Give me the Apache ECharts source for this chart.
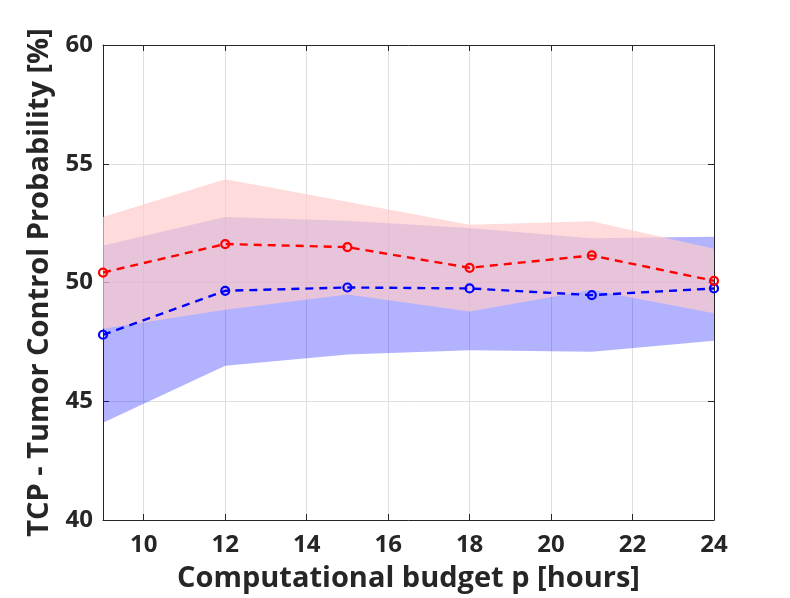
<!DOCTYPE html>
<html>
<head>
<meta charset="utf-8">
<script src="https://cdn.jsdelivr.net/npm/echarts@6/dist/echarts.min.js"></script>
<style>
  html, body { margin: 0; padding: 0; background: #fff; }
  #chart { width: 790px; height: 598px; }
</style>
</head>
<body>
<div id="chart"></div>
<script>
// 计算预算 p（小时）与 TCP 的关系：两条均值曲线 + 各自的置信带
const budget = [9, 12, 15, 18, 21, 24];
const xTicks = [10, 12, 14, 16, 18, 20, 22, 24];

const redMean  = [50.42, 51.62, 51.49, 50.62, 51.14, 50.07];
const redLow   = [48.05, 48.85, 49.5, 48.78, 49.68, 48.71];
const redHigh  = [52.76, 54.35, 53.4, 52.43, 52.58, 51.42];

const blueMean = [47.8, 49.65, 49.79, 49.75, 49.47, 49.75];
const blueLow  = [44.1, 46.5, 46.97, 47.15, 47.08, 47.55];
const blueHigh = [51.56, 52.76, 52.6, 52.29, 51.86, 51.93];

const TXT = '#262626';
const FONT = '"Open Sans", "DejaVu Sans", sans-serif';

const pairs = arr => budget.map((x, i) => [x, arr[i]]);

// 置信带：custom 系列，在第 0 个数据项处画整块多边形（上界正向 + 下界反向）
function band(name, lo, hi, fill) {
  const rows = budget.map((x, i) => [x, lo[i], hi[i]]);
  return {
    name, type: 'custom', data: rows, silent: true, animation: false,
    encode: { x: 0, y: [1, 2] },
    renderItem(params, api) {
      if (params.dataIndex !== 0) return null;
      const top = rows.map(r => api.coord([r[0], r[2]]));
      const bot = rows.map(r => api.coord([r[0], r[1]])).reverse();
      return {
        type: 'polygon',
        shape: { points: top.concat(bot) },
        style: { fill, stroke: null },
      };
    },
  };
}

function meanLine(name, arr, color) {
  return {
    name, type: 'line', data: pairs(arr), symbol: 'circle', symbolSize: 8,
    lineStyle: { color, width: 2.4, type: [8, 6] },
    itemStyle: { color: 'rgba(0,0,0,0)', borderColor: color, borderWidth: 2.2 },
    animation: false,
  };
}

const chart = echarts.init(document.getElementById('chart'), null, { renderer: 'canvas' });
chart.setOption({
  backgroundColor: '#fff',
  grid: { left: 103, top: 45, width: 611, height: 478, show: false },
  xAxis: [{
    type: 'value', min: 9, max: 24,
    name: 'Computational budget p [hours]', nameLocation: 'middle', nameGap: 44,
    nameTextStyle: { color: TXT, fontSize: 29, fontWeight: 'bold', fontFamily: FONT },
    axisLine: { show: true, lineStyle: { color: TXT, width: 1 } },
    axisTick: { show: true, inside: true, length: 6, lineStyle: { color: TXT }, customValues: xTicks },
    axisLabel: { color: TXT, fontSize: 24, fontWeight: 'bold', fontFamily: FONT, margin: 13, customValues: xTicks },
    splitLine: { show: true, lineStyle: { color: '#dedede', width: 1 } },
  }, {
    type: 'value', min: 9, max: 24, position: 'top',
    axisLine: { show: true, lineStyle: { color: TXT, width: 1 } },
    axisTick: { show: true, inside: true, length: 6, lineStyle: { color: TXT }, customValues: xTicks },
    axisLabel: { show: false }, splitLine: { show: false },
  }],
  yAxis: [{
    type: 'value', min: 40, max: 60, interval: 5,
    name: 'TCP - Tumor Control Probability [%]', nameLocation: 'middle', nameGap: 45,
    nameTextStyle: { color: TXT, fontSize: 29, fontWeight: 'bold', fontFamily: FONT },
    axisLine: { show: true, lineStyle: { color: TXT, width: 1 } },
    axisTick: { show: true, inside: true, length: 6, lineStyle: { color: TXT } },
    axisLabel: { color: TXT, fontSize: 24, fontWeight: 'bold', fontFamily: FONT, margin: 10 },
    splitLine: { show: true, lineStyle: { color: '#dedede', width: 1 } },
  }, {
    type: 'value', min: 40, max: 60, interval: 5, position: 'right',
    axisLine: { show: true, lineStyle: { color: TXT, width: 1 } },
    axisTick: { show: true, inside: true, length: 6, lineStyle: { color: TXT } },
    axisLabel: { show: false }, splitLine: { show: false },
  }],
  series: [
    band('blueBand', blueLow, blueHigh, 'rgba(0,0,255,0.3)'),
    band('redBand', redLow, redHigh, 'rgba(255,204,204,0.7)'),
    meanLine('blue', blueMean, '#0000ff'),
    meanLine('red', redMean, '#ff0000'),
  ],
});
</script>
</body>
</html>
